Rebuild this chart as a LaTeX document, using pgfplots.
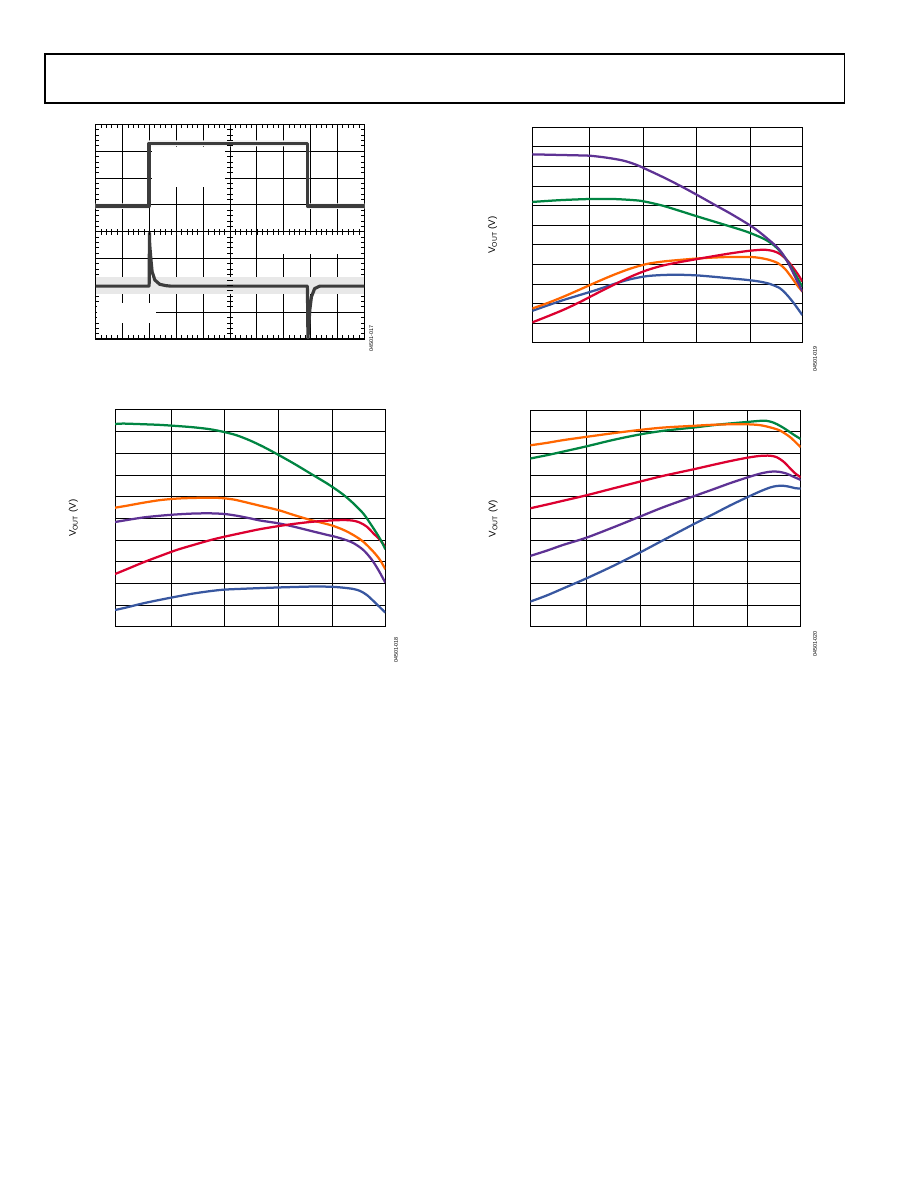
\documentclass[border=0pt]{standalone}
\usepackage{fontspec}
\setmainfont{Liberation Sans}
\usepackage{pgfplots}
\pgfplotsset{compat=1.18}
\definecolor{adgreen}{RGB}{0,133,66}
\definecolor{adorange}{RGB}{255,102,0}
\definecolor{adred}{RGB}{220,0,48}
\definecolor{adpurple}{RGB}{94,50,148}
\definecolor{adblue}{RGB}{56,87,160}
\definecolor{scopegray}{RGB}{60,60,60}
\pgfplotsset{
  vplot/.style={scale only axis, anchor=south west,
    xtick={1,2,3,4}, grid=major,
    grid style={black,line width=0.6bp},
    axis line style={black,line width=0.7bp},
    xticklabels={}, yticklabels={}, major tick length=0pt, tick style={draw=none},
    ylabel={V\textsubscript{OUT} (V)},
    ylabel style={font=\fontsize{6.5}{7}\selectfont, at={(axis description cs:#1,0.5)}, anchor=center},
    every axis plot/.append style={line width=1.5bp, smooth, no marks, line join=round}}
}
\tikzset{idlab/.style={rotate=90, font=\fontsize{3.6}{4}\selectfont, inner sep=0pt}}
\begin{document}
\begin{tikzpicture}
\useasboundingbox (0,0) rectangle (612bp,792bp);
\fill[white] (0,0) rectangle (612bp,792bp);
% header frame
\draw[line width=0.7bp] (30bp,723.3bp) -- (30bp,756bp) -- (563.3bp,756bp) -- (563.3bp,723.3bp);
\draw[line width=1.6bp] (29.65bp,723.3bp) -- (563.65bp,723.3bp);

% ---------------- Panel 1: scope ----------------
\begin{axis}[scale only axis, anchor=south west, at={(63.8bp,566bp)},
  width=179.1bp, height=143.1bp,
  xmin=0, xmax=10, ymin=0, ymax=8,
  xtick={0,...,10}, ytick={0,...,8},
  minor x tick num=4, minor y tick num=4,
  grid=major, grid style={black,line width=0.6bp},
  axis line style={black,line width=0.7bp},
  tick align=inside, xtick pos=both, ytick pos=both,
  major tick length=0pt, minor tick length=2.5bp,
  tick style={black,line width=0.5bp},
  xticklabels={}, yticklabels={}]
\addplot[fill=black!9, draw=none] coordinates {(0,1.66)(10,1.66)(10,2.3)(0,2.3)} -- cycle;
\addplot[fill=black!5, draw=none] coordinates {(0,4.85)(1.98,4.85)(1.98,7.18)(7.88,7.18)(7.88,4.85)(10,4.85)(10,5.05)(7.95,5.05)(7.95,7.4)(1.92,7.4)(1.92,5.05)(0,5.05)} -- cycle;
\addplot[fill=white, draw=none] coordinates {(2.08,5.67)(4.8,5.67)(4.8,7.15)(2.08,7.15)} -- cycle;
\addplot[fill=white, draw=none] coordinates {(0.05,0.58)(2.25,0.58)(2.25,1.33)(0.05,1.33)} -- cycle;
\addplot[fill=white, draw=none] coordinates {(6.17,3.18)(9.52,3.18)(9.52,3.92)(6.17,3.92)} -- cycle;
\addplot[scopegray, line width=2.3bp, line join=round] coordinates {
(0,4.95)(1.98,4.95)(1.98,7.29)(7.88,7.29)(7.88,4.95)(10,4.95)};
\addplot[scopegray, line width=2.1bp, line join=round] coordinates {
(0,1.97)(1.99,1.97)(2.0,3.95)(2.01,3.54)(2.05,3.03)(2.10,2.51)(2.20,2.20)(2.38,2.04)(2.6,1.99)(2.8,1.97)
(7.88,1.97)(7.90,0.04)(7.93,0.46)(7.97,1.08)(8.03,1.57)(8.15,1.88)(8.34,1.97)(10,1.97)};
\end{axis}
% center-line minor ticks
\begin{axis}[scale only axis, anchor=south west, at={(63.8bp,566bp)},
  width=179.1bp, height=143.1bp,
  xmin=-5, xmax=5, ymin=-4, ymax=4,
  axis lines=middle, axis line style={draw=none, -},
  xtick={-4.8,-4.6,...,4.9}, ytick={-3.8,-3.6,...,3.9},
  tick align=center, major tick length=4bp,
  tick style={black,line width=0.5bp},
  xticklabels={}, yticklabels={}]
\end{axis}
\node[idlab] at (247.5bp,566.5bp) {04501-017};

% ---------------- Panel 2 ----------------
\begin{axis}[vplot=-0.147, at={(354.9bp,563.5bp)}, width=180bp, height=143.6bp,
  xmin=-0.062, xmax=4.969, ymin=0, ymax=11, ytick={1,...,10}]
\addplot[adblue] coordinates {(-0.062,1.63)(0.205,1.89)(0.516,2.18)(0.826,2.44)(1.137,2.70)(1.447,2.99)(1.758,3.24)(2.068,3.40)(2.379,3.46)(2.689,3.47)(3.0,3.44)(3.311,3.37)(3.621,3.29)(3.932,3.21)(4.180,3.12)(4.366,3.00)(4.553,2.78)(4.677,2.46)(4.801,2.05)(4.894,1.70)(4.969,1.41)};
\addplot[adorange] coordinates {(-0.062,1.75)(0.205,2.01)(0.516,2.35)(0.826,2.72)(1.137,3.10)(1.447,3.46)(1.758,3.78)(2.068,4.02)(2.379,4.15)(2.689,4.23)(3.0,4.30)(3.311,4.35)(3.621,4.38)(3.994,4.38)(4.180,4.33)(4.366,4.22)(4.522,4.05)(4.646,3.77)(4.770,3.33)(4.863,2.97)(4.969,2.61)};
\addplot[adred] coordinates {(-0.062,1.04)(0.205,1.33)(0.516,1.68)(0.826,2.08)(1.137,2.52)(1.447,2.95)(1.758,3.36)(2.068,3.70)(2.379,3.95)(2.689,4.12)(3.0,4.27)(3.311,4.42)(3.621,4.56)(3.932,4.68)(4.118,4.73)(4.273,4.75)(4.429,4.68)(4.553,4.53)(4.677,4.24)(4.801,3.82)(4.894,3.46)(4.969,3.12)};
\addplot[adgreen] coordinates {(-0.062,7.19)(0.205,7.24)(0.516,7.29)(1.012,7.34)(1.447,7.34)(1.882,7.27)(2.068,7.19)(2.379,6.99)(2.689,6.73)(3.0,6.46)(3.311,6.20)(3.621,5.94)(3.932,5.67)(4.242,5.32)(4.429,5.00)(4.553,4.67)(4.677,4.22)(4.801,3.66)(4.894,3.22)(4.969,2.86)};
\addplot[adpurple] coordinates {(-0.062,9.62)(0.764,9.57)(1.012,9.55)(1.323,9.45)(1.634,9.30)(1.882,9.08)(2.068,8.85)(2.379,8.45)(2.689,8.02)(3.0,7.56)(3.311,7.08)(3.621,6.61)(3.932,6.10)(4.118,5.76)(4.304,5.35)(4.491,4.90)(4.615,4.48)(4.739,3.90)(4.832,3.37)(4.925,2.86)(4.969,2.61)};
\end{axis}
\node[idlab] at (543.3bp,552.7bp) {04501-019};

% ---------------- Panel 3 ----------------
\begin{axis}[vplot=-0.154, at={(76.7bp,374.2bp)}, width=180.2bp, height=144.5bp,
  xmin=-0.039, xmax=4.977, ymin=0, ymax=10, ytick={1,...,9}]
\addplot[adblue] coordinates {(-0.039,0.77)(0.177,0.89)(0.487,1.08)(0.796,1.24)(1.105,1.39)(1.414,1.53)(1.724,1.64)(1.989,1.71)(2.342,1.75)(2.651,1.78)(2.991,1.81)(3.270,1.83)(3.579,1.85)(3.826,1.85)(3.999,1.84)(4.197,1.80)(4.383,1.74)(4.507,1.65)(4.630,1.47)(4.754,1.19)(4.878,0.89)(4.977,0.65)};
\addplot[adpurple] coordinates {(-0.039,4.83)(0.177,4.92)(0.487,5.04)(0.796,5.12)(1.105,5.18)(1.414,5.22)(1.724,5.23)(1.989,5.20)(2.218,5.12)(2.466,5.00)(2.651,4.90)(2.991,4.77)(3.270,4.62)(3.579,4.43)(3.888,4.24)(3.999,4.18)(4.197,4.04)(4.383,3.86)(4.568,3.54)(4.723,3.10)(4.847,2.62)(4.977,2.03)};
\addplot[adorange] coordinates {(-0.039,5.49)(0.177,5.58)(0.487,5.72)(0.796,5.84)(1.105,5.91)(1.414,5.94)(1.724,5.95)(1.909,5.94)(2.156,5.87)(2.404,5.73)(2.651,5.58)(2.991,5.38)(3.270,5.16)(3.579,4.93)(3.888,4.74)(3.999,4.66)(4.197,4.47)(4.383,4.23)(4.568,3.92)(4.754,3.46)(4.878,3.08)(4.977,2.65)};
\addplot[adred] coordinates {(-0.039,2.43)(0.177,2.65)(0.487,2.97)(0.796,3.26)(1.105,3.54)(1.414,3.77)(1.724,3.99)(1.989,4.15)(2.342,4.34)(2.651,4.50)(2.991,4.64)(3.270,4.74)(3.579,4.83)(3.888,4.89)(4.197,4.92)(4.383,4.89)(4.507,4.80)(4.630,4.62)(4.754,4.31)(4.878,4.00)(4.977,3.69)};
\addplot[adgreen] coordinates {(-0.039,9.35)(0.116,9.37)(0.487,9.34)(0.796,9.31)(1.105,9.26)(1.414,9.20)(1.724,9.11)(1.989,8.98)(2.218,8.83)(2.466,8.59)(2.713,8.30)(2.991,7.93)(3.270,7.54)(3.579,7.08)(3.888,6.62)(3.999,6.44)(4.197,6.09)(4.383,5.69)(4.568,5.22)(4.692,4.78)(4.816,4.31)(4.909,3.92)(4.977,3.57)};
\end{axis}
\node[idlab] at (264bp,358.7bp) {04501-018};

% ---------------- Panel 4 ----------------
\begin{axis}[vplot=-0.137, at={(353.5bp,374.2bp)}, width=180.3bp, height=144.3bp,
  xmin=-0.042, xmax=4.986, ymin=0, ymax=10, ytick={1,...,9}]
\addplot[adblue] coordinates {(-0.042,1.16)(0.262,1.44)(0.572,1.77)(1.0,2.23)(1.502,2.81)(1.992,3.42)(2.432,4.00)(2.990,4.73)(3.362,5.20)(3.672,5.60)(4.001,5.99)(4.230,6.25)(4.416,6.43)(4.540,6.50)(4.664,6.51)(4.788,6.46)(4.881,6.40)(4.986,6.38)};
\addplot[adpurple] coordinates {(-0.042,3.27)(0.262,3.51)(0.572,3.78)(1.0,4.11)(1.502,4.59)(1.992,5.08)(2.432,5.52)(2.990,6.02)(3.362,6.35)(3.672,6.63)(4.001,6.90)(4.230,7.07)(4.416,7.16)(4.571,7.16)(4.726,7.07)(4.850,6.93)(4.986,6.78)};
\addplot[adred] coordinates {(-0.042,5.47)(0.262,5.64)(0.572,5.82)(1.0,6.07)(1.502,6.39)(1.992,6.70)(2.432,6.97)(2.990,7.27)(3.362,7.48)(3.672,7.65)(4.001,7.81)(4.230,7.89)(4.416,7.90)(4.540,7.83)(4.664,7.63)(4.788,7.32)(4.881,7.09)(4.986,6.90)};
\addplot[adgreen] coordinates {(-0.042,7.77)(0.262,7.92)(0.572,8.09)(1.0,8.33)(1.502,8.63)(1.992,8.88)(2.432,9.05)(2.990,9.20)(3.362,9.31)(3.672,9.39)(4.001,9.46)(4.230,9.51)(4.354,9.51)(4.478,9.43)(4.602,9.28)(4.726,9.09)(4.850,8.88)(4.986,8.67)};
\addplot[adorange] coordinates {(-0.042,8.38)(0.262,8.49)(0.572,8.62)(1.0,8.77)(1.502,8.94)(1.992,9.09)(2.432,9.20)(2.990,9.28)(3.362,9.33)(3.672,9.35)(4.001,9.35)(4.230,9.31)(4.416,9.21)(4.602,9.06)(4.788,8.76)(4.912,8.47)(4.986,8.29)};
\end{axis}
\node[idlab] at (543.3bp,362.7bp) {04501-020};
\end{tikzpicture}
\end{document}
